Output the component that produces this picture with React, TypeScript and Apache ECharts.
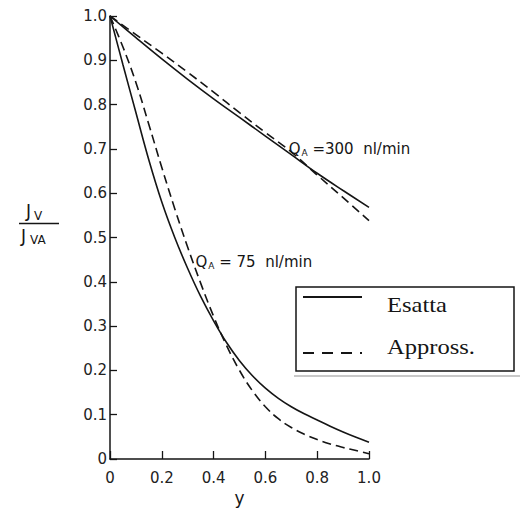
import React, { useEffect, useRef } from "react";
import * as echarts from "echarts";

// Q_A = 300 nl/min
const x300 = [0, 0.1, 0.2, 0.3, 0.4, 0.5, 0.6, 0.7, 0.8, 0.9, 1.0];
const exact300 = [1.0, 0.951, 0.903, 0.857, 0.813, 0.771, 0.729, 0.687, 0.645, 0.606, 0.568];
const approx300 = [1.0, 0.958, 0.916, 0.873, 0.828, 0.782, 0.737, 0.693, 0.641, 0.59, 0.538];

// Q_A = 75 nl/min
const x75 = [0, 0.05, 0.1, 0.15, 0.2, 0.25, 0.3, 0.35, 0.4, 0.45, 0.5, 0.55, 0.6, 0.65, 0.7, 0.75, 0.8, 0.85, 0.9, 0.95, 1.0];
const exact75 = [1.0, 0.89, 0.782, 0.675, 0.58, 0.5, 0.43, 0.367, 0.312, 0.263, 0.222, 0.188, 0.16, 0.137, 0.118, 0.102, 0.088, 0.074, 0.061, 0.049, 0.038];
const approx75 = [1.0, 0.93, 0.85, 0.755, 0.658, 0.565, 0.478, 0.397, 0.322, 0.256, 0.2, 0.154, 0.118, 0.091, 0.071, 0.056, 0.044, 0.034, 0.026, 0.019, 0.012];

const xTicks = [0, 0.2, 0.4, 0.6, 0.8, 1.0];
const yTicks = [0, 0.1, 0.2, 0.3, 0.4, 0.5, 0.6, 0.7, 0.8, 0.9, 1.0];

const legendLabels = ["Esatta", "Appross."];
const annot300 = { sub: "A", main: "Q", rest: " =300  nl/min", x: 0.69, y: 0.7 };
const annot75 = { sub: "A", main: "Q", rest: " = 75  nl/min", x: 0.33, y: 0.445 };

const INK = "#151515";
const SANS = "DejaVu Sans";

const zip = (xs: number[], ys: number[]) => xs.map((x, i) => [x, ys[i]]);

export default function App() {
  const ref = useRef<HTMLDivElement>(null);
  useEffect(() => {
    if (!ref.current) return;
    const chart = echarts.init(ref.current, undefined, { renderer: "svg" });
    const fmt = (v: number) => (v === 0 ? "0" : v.toFixed(1));
    const solid = { color: INK, width: 1.6, type: "solid" as const };
    const dashed = { color: INK, width: 1.6, type: [9, 5] as any };
    const mkSeries = (name: string, xs: number[], ys: number[], ls: any) => ({
      name,
      type: "line",
      data: zip(xs, ys),
      showSymbol: false,
      symbol: "none",
      smooth: 0.4,
      lineStyle: ls,
      silent: true,
    });
    chart.setOption({
      animation: false,
      backgroundColor: "#ffffff",
      grid: { left: 110, top: 16, right: 151, bottom: 57 },
      xAxis: {
        type: "value",
        min: 0,
        max: 1,
        interval: 0.2,
        name: "y",
        nameLocation: "middle",
        nameGap: 30,
        nameTextStyle: { fontFamily: SANS, fontSize: 17, color: INK },
        axisLine: { show: true, lineStyle: { color: INK, width: 1.5 } },
        axisTick: { show: true, inside: true, length: 8, lineStyle: { color: INK, width: 1.3 } },
        axisLabel: {
          formatter: (v: number) => (xTicks.some((t) => Math.abs(t - v) < 1e-9) ? fmt(v) : ""),
          fontFamily: SANS,
          fontSize: 15,
          color: "#222",
          margin: 11,
        },
        splitLine: { show: false },
      },
      yAxis: {
        type: "value",
        min: 0,
        max: 1,
        interval: 0.1,
        axisLine: { show: true, onZero: false, lineStyle: { color: INK, width: 1.5 } },
        axisTick: { show: true, inside: true, length: 7, lineStyle: { color: INK, width: 1.3 } },
        axisLabel: {
          formatter: (v: number) => (yTicks.some((t) => Math.abs(t - v) < 1e-9) ? fmt(v) : ""),
          fontFamily: SANS,
          fontSize: 15,
          color: "#222",
          margin: 3,
        },
        splitLine: { show: false },
      },
      series: [
        mkSeries("exact300", x300, exact300, solid),
        mkSeries("approx300", x300, approx300, dashed),
        mkSeries("exact75", x75, exact75, solid),
        mkSeries("approx75", x75, approx75, dashed),
      ],
    });

    const px = (x: number, y: number) => chart.convertToPixel({ gridIndex: 0 }, [x, y]) as number[];
    const annot = (a: typeof annot300) => {
      const [ax, ay] = px(a.x, a.y);
      return {
        type: "text",
        x: ax,
        y: ay,
        style: {
          text: `{m|${a.main}}{s|${a.sub}}{r|${a.rest}}`,
          textVerticalAlign: "middle",
          rich: {
            m: { fontFamily: SANS, fontSize: 15, fill: INK, color: INK },
            s: { fontFamily: SANS, fontSize: 9, fill: INK, color: INK, padding: [8, 0, 0, 1] },
            r: { fontFamily: SANS, fontSize: 15, fill: INK, color: INK },
          },
        },
      };
    };
    const serif = "Liberation Serif";
    chart.setOption({
      graphic: [
        annot(annot300),
        annot(annot75),
        // y-axis fraction label
        { type: "text", x: 26, y: 211, style: { text: "J", font: `17px ${SANS}`, fill: INK, textVerticalAlign: "middle" } },
        { type: "text", x: 34, y: 216, style: { text: "V", font: `12px ${SANS}`, fill: INK, textVerticalAlign: "middle" } },
        { type: "line", shape: { x1: 19, y1: 223.5, x2: 59, y2: 223.5 }, style: { stroke: INK, lineWidth: 1.5 } },
        { type: "text", x: 21, y: 236, style: { text: "J", font: `17px ${SANS}`, fill: INK, textVerticalAlign: "middle" } },
        { type: "text", x: 30, y: 240, style: { text: "VA", font: `12px ${SANS}`, fill: INK, textVerticalAlign: "middle" } },
        // legend box
        { type: "line", shape: { x1: 294, y1: 376, x2: 520, y2: 376 }, style: { stroke: "#c8c8c8", lineWidth: 2 } },
        { type: "rect", shape: { x: 296, y: 287, width: 218, height: 84 }, style: { fill: "#fff", stroke: INK, lineWidth: 1.5 } },
        { type: "line", shape: { x1: 303, y1: 297, x2: 362, y2: 297 }, style: { stroke: INK, lineWidth: 2 } },
        { type: "line", shape: { x1: 303, y1: 353, x2: 362, y2: 353 }, style: { stroke: INK, lineWidth: 2, lineDash: [11, 8] } },
        { type: "text", x: 387, y: 305, scaleX: 1.17, style: { text: legendLabels[0], font: `21px "${serif}"`, fill: INK, textVerticalAlign: "middle" } },
        { type: "text", x: 387, y: 347, scaleX: 1.17, style: { text: legendLabels[1], font: `21px "${serif}"`, fill: INK, textVerticalAlign: "middle" } },
      ],
    });
    return () => chart.dispose();
  }, []);
  return <div ref={ref} style={{ position: "fixed", left: 0, top: 0, width: 520, height: 516, background: "#fff" }} />;
}
